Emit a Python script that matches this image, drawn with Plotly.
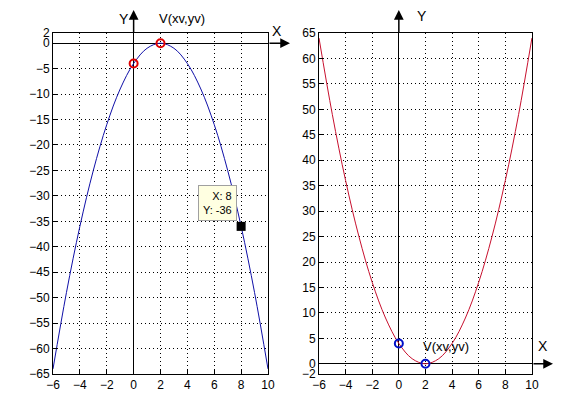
import plotly.graph_objects as go
from plotly.subplots import make_subplots

# 数据（从图上读取的整数点）
x_vals = [-6, -5, -4, -3, -2, -1, 0, 1, 2, 3, 4, 5, 6, 7, 8, 9, 10]
y_down = [-64, -49, -36, -25, -16, -9, -4, -1, 0, -1, -4, -9, -16, -25, -36, -49, -64]
y_up = [64, 49, 36, 25, 16, 9, 4, 1, 0, 1, 4, 9, 16, 25, 36, 49, 64]

# 标记点
pts_x = [0, 2]
pts_down = [-4, 0]
pts_up = [4, 0]
tip_x, tip_y = 8, -36

x_ticks = [-6, -4, -2, 0, 2, 4, 6, 8, 10]
y_ticks_left = [2, 0, -5, -10, -15, -20, -25, -30, -35, -40, -45, -50, -55, -60, -65]
y_ticks_right = [-2, 0, 5, 10, 15, 20, 25, 30, 35, 40, 45, 50, 55, 60, 65]

FAM = "Liberation Sans, Arial"
font = dict(family=FAM, size=12, color="black")

fig = make_subplots(rows=1, cols=2)

fig.add_trace(go.Scatter(x=x_vals, y=y_down, mode="lines", line=dict(color="#1010a8", width=1, shape="spline")), 1, 1)
fig.add_trace(go.Scatter(x=pts_x, y=pts_down, mode="markers",
                         marker=dict(symbol="circle-open", size=8, color="#e00000", line=dict(width=2))), 1, 1)
fig.add_trace(go.Scatter(x=[tip_x], y=[tip_y], mode="markers",
                         marker=dict(symbol="square", size=9, color="black")), 1, 1)

fig.add_trace(go.Scatter(x=x_vals, y=y_up, mode="lines", line=dict(color="#c8102e", width=1, shape="spline")), 1, 2)
fig.add_trace(go.Scatter(x=pts_x, y=pts_up, mode="markers",
                         marker=dict(symbol="circle-open", size=8, color="#0010c8", line=dict(width=2))), 1, 2)

axis_common = dict(showline=True, mirror=True, linecolor="black", linewidth=1,
                   showgrid=True, gridcolor="black", griddash="1px,3px", gridwidth=1,
                   zeroline=True, zerolinecolor="black", zerolinewidth=1, automargin=False,
                   ticks="inside", ticklen=4, tickcolor="black", tickfont=font)

fig.update_xaxes(range=[-6, 10], tickvals=x_ticks, **axis_common)
fig.update_xaxes(domain=[0.078, 0.4506], row=1, col=1)
fig.update_xaxes(domain=[0.539, 0.908], row=1, col=2)
fig.update_yaxes(domain=[0.1286, 0.9405], **axis_common)
fig.update_yaxes(range=[-65, 2], tickvals=y_ticks_left, row=1, col=1)
fig.update_yaxes(range=[-2, 65], tickvals=y_ticks_right, row=1, col=2)

arrow = dict(showarrow=True, arrowhead=2, arrowsize=1.3, arrowwidth=1.5, arrowcolor="black", text="")
lab = dict(family=FAM, size=14, color="black")
anns = [
    # 左图 Y 轴箭头
    dict(xref="x", x=0, yref="paper", y=0.995, ax=0, ay=24, **arrow),
    # 左图 X 轴箭头
    dict(xref="paper", x=0.4887, yref="y", y=0, ax=-22, ay=0, **arrow),
    # 右图 Y 轴箭头
    dict(xref="x2", x=0, yref="paper", y=0.995, ax=0, ay=24, **arrow),
    # 右图 X 轴箭头
    dict(xref="paper", x=0.9445, yref="y2", y=0, ax=-21, ay=0, **arrow),
    dict(xref="x", x=0, yref="paper", y=0.974, xanchor="right", yanchor="middle", xshift=-3, text="Y",
         showarrow=False, font=lab),
    dict(xref="paper", x=0.466, yref="y", y=0, xanchor="center", yanchor="bottom", yshift=2, text="X",
         showarrow=False, font=lab),
    dict(xref="x2", x=0, yref="paper", y=0.981, xanchor="left", yanchor="middle", xshift=16, text="Y",
         showarrow=False, font=lab),
    dict(xref="paper", x=0.927, yref="y2", y=0, xanchor="center", yanchor="bottom", yshift=8, text="X",
         showarrow=False, font=lab),
    dict(xref="x", x=2, yref="paper", y=0.974, xanchor="left", yanchor="middle", xshift=-4, text="V(xv,yv)",
         showarrow=False, font=dict(family=FAM, size=13, color="black")),
    dict(xref="x2", x=2, yref="y2", y=0, xanchor="left", yanchor="bottom", xshift=-4, yshift=8,
         text="V(xv,yv)", showarrow=False, font=dict(family=FAM, size=13, color="black")),
    # 数据提示框
    dict(xref="x", x=tip_x, yref="y", y=tip_y, xanchor="right", yanchor="bottom", xshift=-4, yshift=5,
         text="X: 8<br>Y: -36", align="right", showarrow=False, bgcolor="#ffffe1",
         bordercolor="#a0a0a0", borderwidth=1, borderpad=4,
         font=dict(family=FAM, size=11, color="black")),
]

fig.update_layout(width=577, height=420, margin=dict(l=0, r=0, t=0, b=0),
                  paper_bgcolor="white", plot_bgcolor="white", showlegend=False,
                  annotations=anns, font=font)

fig.write_html("out.html")
